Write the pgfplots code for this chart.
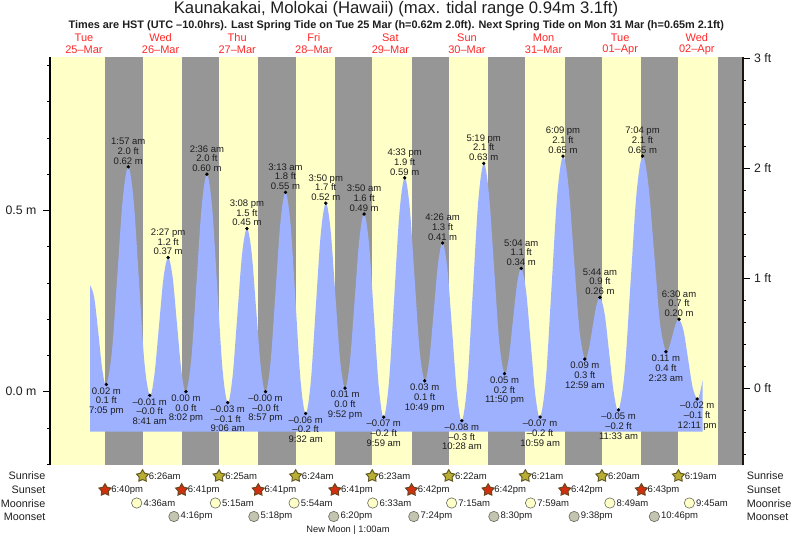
\documentclass[border=0pt]{standalone}
\usepackage{fontspec}
\setmainfont{Liberation Sans}
\usepackage{pgfplots}
\pgfplotsset{compat=1.18}
\definecolor{dayc}{RGB}{255,255,200}
\definecolor{nightc}{RGB}{150,150,150}
\definecolor{tidec}{RGB}{157,177,255}
\definecolor{redt}{RGB}{255,40,40}
\definecolor{txt}{RGB}{30,30,30}
\definecolor{sunriseF}{RGB}{184,174,52}
\definecolor{sunriseE}{RGB}{100,90,35}
\definecolor{sunsetF}{RGB}{208,48,16}
\definecolor{sunsetE}{RGB}{105,70,30}
\definecolor{mrF}{RGB}{255,255,200}
\definecolor{msF}{RGB}{196,196,176}
\definecolor{moonE}{RGB}{105,105,90}
\newcommand\fs[1]{\fontsize{#1}{#1}\selectfont}
\pgfdeclareplotmark{pent}{%
  \pgfpathmoveto{\pgfpointpolar{90}{6.3pt}}%
  \pgfpathlineto{\pgfpointpolar{126}{3.5pt}}%
  \pgfpathlineto{\pgfpointpolar{162}{6.3pt}}%
  \pgfpathlineto{\pgfpointpolar{198}{3.5pt}}%
  \pgfpathlineto{\pgfpointpolar{234}{6.3pt}}%
  \pgfpathlineto{\pgfpointpolar{270}{3.5pt}}%
  \pgfpathlineto{\pgfpointpolar{306}{6.3pt}}%
  \pgfpathlineto{\pgfpointpolar{342}{3.5pt}}%
  \pgfpathlineto{\pgfpointpolar{18}{6.3pt}}%
  \pgfpathlineto{\pgfpointpolar{54}{3.5pt}}%
  \pgfpathclose\pgfusepathqfillstroke}
\tikzset{lab/.style={font=\fontsize{9.5}{9.7}\selectfont,text=txt,align=center,inner sep=0pt},
  row/.style={font=\fs{10.8},text=txt,inner sep=0pt},
  day/.style={font=\fs{11},text=redt,inner sep=0pt}}
\newcommand\hi[5]{\node[lab,anchor=south,yshift=2.5pt] at (axis cs:#1,#2) {#3\\#4\\#5};}
\newcommand\lo[5]{\node[lab,anchor=north,yshift=-3pt] at (axis cs:#1,#2) {#3\\#4\\#5};}
\pgfplotsset{base/.style={scale only axis,width=693pt,height=408.3pt,xmin=1.436,xmax=218.54,clip=false}}
\begin{document}
\begin{tikzpicture}
\useasboundingbox (-50pt,-73.7pt) rectangle (743pt,465.3pt);
% backgrounds
\begin{axis}[base,ymin=-0.203,ymax=0.9233,hide axis]
\addplot[fill=dayc,draw=none] coordinates {(1.436,-0.203)(1.436,0.9233)(218.54,0.9233)(218.54,-0.203)} --cycle;
\addplot[fill=nightc,draw=none] coordinates {(18.667,-0.203)(18.667,0.9233)(30.433,0.9233)(30.433,-0.203)} --cycle;
\addplot[fill=nightc,draw=none] coordinates {(42.683,-0.203)(42.683,0.9233)(54.417,0.9233)(54.417,-0.203)} --cycle;
\addplot[fill=nightc,draw=none] coordinates {(66.683,-0.203)(66.683,0.9233)(78.4,0.9233)(78.4,-0.203)} --cycle;
\addplot[fill=nightc,draw=none] coordinates {(90.683,-0.203)(90.683,0.9233)(102.383,0.9233)(102.383,-0.203)} --cycle;
\addplot[fill=nightc,draw=none] coordinates {(114.7,-0.203)(114.7,0.9233)(126.367,0.9233)(126.367,-0.203)} --cycle;
\addplot[fill=nightc,draw=none] coordinates {(138.7,-0.203)(138.7,0.9233)(150.35,0.9233)(150.35,-0.203)} --cycle;
\addplot[fill=nightc,draw=none] coordinates {(162.7,-0.203)(162.7,0.9233)(174.333,0.9233)(174.333,-0.203)} --cycle;
\addplot[fill=nightc,draw=none] coordinates {(186.717,-0.203)(186.717,0.9233)(198.317,0.9233)(198.317,-0.203)} --cycle;
\addplot[fill=nightc,draw=none] coordinates {(210.72,-0.203)(210.72,0.9233)(218.54,0.9233)(218.54,-0.203)} --cycle;
\end{axis}
% tide area: this axis has its zero at the foot of the area (-0.1103 m)
\begin{axis}[base,ymin=-0.0927,ymax=1.0336,hide axis]
\addplot[fill=tidec,draw=none,smooth,tension=0.55] table[x index=0,y expr=\thisrowno{1}+0.1103] {
13.97 0.294
15.25 0.262
16.50 0.169
17.80 0.062
19.083 0.02
20.80 0.108
22.52 0.32
24.23 0.532
25.95 0.62
27.63 0.528
29.32 0.305
31.0 0.082
32.683 -0.01
34.12 0.045
35.57 0.18
37.01 0.315
38.45 0.37
39.85 0.316
41.24 0.185
42.64 0.054
44.033 0.0
45.67 0.088
47.32 0.30
48.96 0.512
50.6 0.60
52.23 0.508
53.85 0.285
55.48 0.062
57.1 -0.03
58.61 0.04
60.12 0.21
61.62 0.38
63.133 0.45
64.59 0.384
66.04 0.225
67.50 0.066
68.95 0.0
70.52 0.08
72.08 0.275
73.65 0.47
75.217 0.55
76.80 0.461
78.38 0.245
79.95 0.029
81.533 -0.06
83.11 0.025
84.68 0.23
86.26 0.435
87.833 0.52
89.34 0.446
90.85 0.265
92.36 0.084
93.867 0.01
95.36 0.08
96.85 0.25
98.34 0.42
99.833 0.49
101.37 0.408
102.91 0.21
104.45 0.012
105.983 -0.07
107.62 0.026
109.27 0.26
110.91 0.494
112.55 0.59
114.12 0.508
115.68 0.31
117.25 0.112
118.817 0.03
120.22 0.085
121.63 0.22
123.03 0.355
124.433 0.41
125.94 0.338
127.45 0.165
128.96 -0.008
130.467 -0.08
132.18 0.024
133.89 0.275
135.60 0.526
137.317 0.63
138.95 0.545
140.58 0.34
142.20 0.135
143.833 0.05
145.14 0.092
146.45 0.195
147.76 0.298
149.067 0.34
150.55 0.28
152.03 0.135
153.50 -0.01
154.983 -0.07
156.78 0.035
158.57 0.29
160.36 0.545
162.15 0.65
163.86 0.568
165.57 0.37
167.28 0.172
168.983 0.09
170.17 0.115
171.36 0.175
172.55 0.235
173.733 0.26
175.19 0.215
176.64 0.105
178.10 -0.005
179.55 -0.05
181.43 0.052
183.31 0.30
185.19 0.548
187.067 0.65
188.90 0.571
190.73 0.38
192.55 0.189
194.383 0.11
195.41 0.123
196.44 0.155
197.47 0.187
198.5 0.20
199.92 0.168
201.34 0.09
202.76 0.012
204.183 -0.02
205.0 -0.005
205.9 0.032
} \closedcycle;
\end{axis}
% left axis, dots, labels
\begin{axis}[base,ymin=-0.203,ymax=0.9233,
  axis x line=none,axis y line*=left,
  axis line style={line width=1.5pt,black},
  ytick={0,0.5},yticklabels={0.0 m,0.5 m},
  minor ytick={-0.2,-0.1,0.1,0.2,0.3,0.4,0.6,0.7,0.8,0.9},
  major tick length=6.5pt,minor tick length=3pt,
  tick style={black,line width=0.7pt},
  tick align=outside,
  yticklabel style={font=\fs{12.3},text=txt,inner sep=0pt,xshift=-7pt}]
\addplot[only marks,mark=*,mark size=1.5pt,mark options={fill=black,draw=black}] table {
19.083 0.02
25.95 0.62
32.683 -0.01
38.45 0.37
44.033 0.0
50.6 0.60
57.1 -0.03
63.133 0.45
68.95 0.0
75.217 0.55
81.533 -0.06
87.833 0.52
93.867 0.01
99.833 0.49
105.983 -0.07
112.55 0.59
118.817 0.03
124.433 0.41
130.467 -0.08
137.317 0.63
143.833 0.05
149.067 0.34
154.983 -0.07
162.15 0.65
168.983 0.09
173.733 0.26
179.55 -0.05
187.067 0.65
194.383 0.11
198.5 0.20
204.183 -0.02
};
\lo{19.083}{0.02}{0.02 m}{0.1 ft}{7:05 pm}
\hi{25.95}{0.62}{1:57 am}{2.0 ft}{0.62 m}
\lo{32.683}{-0.01}{–0.01 m}{–0.0 ft}{8:41 am}
\hi{38.45}{0.37}{2:27 pm}{1.2 ft}{0.37 m}
\lo{44.033}{0.0}{0.00 m}{0.0 ft}{8:02 pm}
\hi{50.6}{0.60}{2:36 am}{2.0 ft}{0.60 m}
\lo{57.1}{-0.03}{–0.03 m}{–0.1 ft}{9:06 am}
\hi{63.133}{0.45}{3:08 pm}{1.5 ft}{0.45 m}
\lo{68.95}{0.0}{–0.00 m}{–0.0 ft}{8:57 pm}
\hi{75.217}{0.55}{3:13 am}{1.8 ft}{0.55 m}
\lo{81.533}{-0.06}{–0.06 m}{–0.2 ft}{9:32 am}
\hi{87.833}{0.52}{3:50 pm}{1.7 ft}{0.52 m}
\lo{93.867}{0.01}{0.01 m}{0.0 ft}{9:52 pm}
\hi{99.833}{0.49}{3:50 am}{1.6 ft}{0.49 m}
\lo{105.983}{-0.07}{–0.07 m}{–0.2 ft}{9:59 am}
\hi{112.55}{0.59}{4:33 pm}{1.9 ft}{0.59 m}
\lo{118.817}{0.03}{0.03 m}{0.1 ft}{10:49 pm}
\hi{124.433}{0.41}{4:26 am}{1.3 ft}{0.41 m}
\lo{130.467}{-0.08}{–0.08 m}{–0.3 ft}{10:28 am}
\hi{137.317}{0.63}{5:19 pm}{2.1 ft}{0.63 m}
\lo{143.833}{0.05}{0.05 m}{0.2 ft}{11:50 pm}
\hi{149.067}{0.34}{5:04 am}{1.1 ft}{0.34 m}
\lo{154.983}{-0.07}{–0.07 m}{–0.2 ft}{10:59 am}
\hi{162.15}{0.65}{6:09 pm}{2.1 ft}{0.65 m}
\lo{168.983}{0.09}{0.09 m}{0.3 ft}{12:59 am}
\hi{173.733}{0.26}{5:44 am}{0.9 ft}{0.26 m}
\lo{179.55}{-0.05}{–0.05 m}{–0.2 ft}{11:33 am}
\hi{187.067}{0.65}{7:04 pm}{2.1 ft}{0.65 m}
\lo{194.383}{0.11}{0.11 m}{0.4 ft}{2:23 am}
\hi{198.5}{0.20}{6:30 am}{0.7 ft}{0.20 m}
\lo{204.183}{-0.02}{–0.02 m}{–0.1 ft}{12:11 pm}
% sun and moon rows
\addplot[only marks,mark=pent,mark options={fill=sunriseF,draw=sunriseE,line width=1pt},
  point meta=explicit symbolic,nodes near coords,
  every node near coord/.style={anchor=west,xshift=5.8pt,yshift=0pt,font=\fs{9.5},text=txt,inner sep=0pt}]
  table[meta=t] {
x y t
30.433 -0.2326 6:26am
54.417 -0.2326 6:25am
78.4 -0.2326 6:24am
102.383 -0.2326 6:23am
126.367 -0.2326 6:22am
150.35 -0.2326 6:21am
174.333 -0.2326 6:20am
198.317 -0.2326 6:19am
};
\addplot[only marks,mark=pent,mark options={fill=sunsetF,draw=sunsetE,line width=1pt},
  point meta=explicit symbolic,nodes near coords,
  every node near coord/.style={anchor=west,xshift=5.8pt,yshift=0pt,font=\fs{9.5},text=txt,inner sep=0pt}]
  table[meta=t] {
x y t
18.667 -0.2712 6:40pm
42.683 -0.2712 6:41pm
66.683 -0.2712 6:41pm
90.683 -0.2712 6:41pm
114.7 -0.2712 6:42pm
138.7 -0.2712 6:42pm
162.7 -0.2712 6:42pm
186.717 -0.2712 6:43pm
};
\addplot[only marks,mark=*,mark size=5.2pt,mark options={fill=mrF,draw=moonE,line width=0.6pt},
  point meta=explicit symbolic,nodes near coords,
  every node near coord/.style={anchor=west,xshift=6.5pt,yshift=0pt,font=\fs{9.5},text=txt,inner sep=0pt}]
  table[meta=t] {
x y t
28.6 -0.307 4:36am
53.25 -0.307 5:15am
77.9 -0.307 5:54am
102.55 -0.307 6:33am
127.25 -0.307 7:15am
151.983 -0.307 7:59am
176.817 -0.307 8:49am
201.75 -0.307 9:45am
};
\addplot[only marks,mark=*,mark size=5.2pt,mark options={fill=msF,draw=moonE,line width=0.6pt},
  point meta=explicit symbolic,nodes near coords,
  every node near coord/.style={anchor=west,xshift=6.5pt,yshift=0pt,font=\fs{9.5},text=txt,inner sep=0pt}]
  table[meta=t] {
x y t
40.267 -0.3443 4:16pm
65.3 -0.3443 5:18pm
90.333 -0.3443 6:20pm
115.4 -0.3443 7:24pm
140.5 -0.3443 8:30pm
165.633 -0.3443 9:38pm
190.767 -0.3443 10:46pm
};
\end{axis}
% right axis in feet
\begin{axis}[base,ymin=-0.696,ymax=3.015,
  axis x line=none,axis y line*=right,
  axis line style={line width=1.5pt,black!85!brown},
  ytick={0,1,2,3},yticklabels={0 ft,1 ft,2 ft,3 ft},
  minor ytick={-0.6,-0.4,-0.2,0.2,0.4,0.6,0.8,1.2,1.4,1.6,1.8,2.2,2.4,2.6,2.8},
  major tick length=6.5pt,minor tick length=3pt,
  tick style={black,line width=0.7pt},tick align=outside,
  yticklabel style={font=\fs{12.3},text=txt,inner sep=0pt,xshift=4.5pt,yshift=0.7pt}]
\addplot[draw=none,forget plot] coordinates {(1.436,0)(218.54,3)};
\end{axis}
% text around the plot
\node[font=\fs{16.7},text=txt,inner sep=0pt] at (346pt,456.1pt) {Kaunakakai, Molokai (Hawaii) (max. tidal range 0.94m 3.1ft)};
\node[font=\bfseries\fs{10.9},text=txt,inner sep=0pt] at (346.3pt,439.8pt) {Times are HST (UTC –10.0hrs). Last Spring Tide on Tue 25 Mar (h=0.62m 2.0ft). Next Spring Tide on Mon 31 Mar (h=0.65m 2.1ft)};
\foreach \h/\a/\b in {34/Tue/25–Mar,110.6/Wed/26–Mar,187.2/Thu/27–Mar,263.8/Fri/28–Mar,340.4/Sat/29–Mar,417/Sun/30–Mar,493.6/Mon/31–Mar,570.2/Tue/01–Apr,646.8/Wed/02–Apr}{
  \node[day] at (\h pt,427.8pt) {\a};
  \node[day] at (\h pt,415.8pt) {\b};
}
\foreach \y/\t in {-10.7/Sunrise,-24.7/Sunset,-38/Moonrise,-51.4/Moonset}{
  \node[row,anchor=east] at (-4.5pt,\y pt) {\t};
  \node[row,anchor=west] at (696.7pt,\y pt) {\t};
}
\node[font=\fs{9.3},text=txt,inner sep=0pt] at (298pt,-64.7pt) {New Moon | 1:00am};
\end{tikzpicture}
\end{document}
